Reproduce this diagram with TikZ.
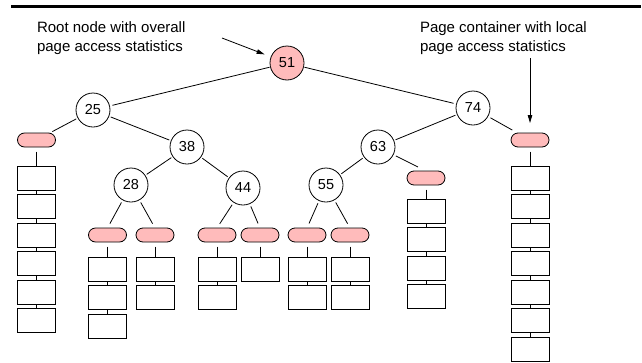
\documentclass[tikz,border=0pt]{standalone}
\usepackage{fontspec}
\setmainfont{Liberation Sans}
\usetikzlibrary{arrows.meta}
\definecolor{pinkfill}{RGB}{255,187,187}
\begin{document}
\begin{tikzpicture}[x=1pt,y=-1pt,
  every node/.style={inner sep=0pt, outer sep=0pt},
  circ/.style={circle, draw, line width=0.8pt, minimum size=34pt, font=\fontsize{14.5}{17}\selectfont},
  rootc/.style={circ, fill=pinkfill},
  bar/.style={rectangle, rounded corners=7pt, draw, line width=0.8pt, fill=pinkfill, minimum width=38pt, minimum height=14pt},
  page/.style={rectangle, draw, line width=0.8pt, minimum width=38pt, minimum height=24pt},
  edge/.style={line width=0.8pt},
  ann/.style={font=\fontsize{15}{19}\selectfont, align=left, anchor=north west},
  pointer/.style={line width=0.8pt, -{Triangle[length=8pt,width=4.5pt]}},
  toprule/.style={line width=3.2pt}]
\useasboundingbox (0,0) rectangle (642,362);

% top rule
\coordinate (ruleL) at (11,6.6);
\coordinate (ruleR) at (641,6.6);
\draw[toprule] (ruleL) -- (ruleR);

% annotations
\node[ann] (txtA) at (37,22) {Root node with overall\\page access statistics};
\node[ann] (txtB) at (420,22) {Page container with local\\page access statistics};

% tree nodes
\node[rootc] (n51) at (287,63) {51};
\node[circ] (n25) at (93,110) {25};
\node[circ] (n74) at (473,108) {74};
\node[circ] (n38) at (187,147) {38};
\node[circ] (n63) at (378,147) {63};
\node[circ] (n28) at (131,185) {28};
\node[circ] (n44) at (243,188) {44};
\node[circ] (n55) at (326,185) {55};

% page containers
\node[bar] (bA) at (36.5,140) {};
\node[bar] (bB) at (530,140) {};
\node[bar] (bC) at (426,178) {};
\node[bar] (bD) at (107.5,235) {};
\node[bar] (bE) at (155,235) {};
\node[bar] (bF) at (217,235) {};
\node[bar] (bG) at (260,235) {};
\node[bar] (bH) at (307,235) {};
\node[bar] (bI) at (350,235) {};

% tree edges
\draw[edge, shorten >=3pt, shorten <=1pt] (n51) -- (n25);
\draw[edge, shorten >=3pt, shorten <=1pt] (n51) -- (n74);
\draw[edge, shorten >=2pt, shorten <=2pt] (n25) -- (n38);
\draw[edge, shorten >=2pt, shorten <=2pt] (n74) -- (n63);
\draw[edge, shorten >=2pt, shorten <=2pt] (n38) -- (n28);
\draw[edge, shorten >=2pt, shorten <=2pt] (n38) -- (n44);
\draw[edge, shorten >=2pt, shorten <=2pt] (n63) -- (n55);
\draw[edge, shorten >=3pt, shorten <=2pt] (n25) -- (bA);
\draw[edge, shorten >=6pt, shorten <=3pt] (n74) -- (bB);
\draw[edge, shorten >=9pt, shorten <=3pt] (n63) -- (bC.north);
\draw[edge, shorten >=5pt, shorten <=3pt] (n28) -- (bD.north);
\draw[edge, shorten >=5pt, shorten <=3pt] (n28) -- (bE.north);
\draw[edge, shorten >=5pt, shorten <=3pt] (n44) -- (bF.north);
\draw[edge, shorten >=5pt, shorten <=3pt] (n44) -- (bG.north);
\draw[edge, shorten >=5pt, shorten <=3pt] (n55) -- (bH.north);
\draw[edge, shorten >=5pt, shorten <=3pt] (n55) -- (bI.north);

% pages
\foreach \c/\x/\t/\n in {A/36.5/166/6, B/530/166/7, C/426/199/4, D/107.5/257/3, E/155/257/2, F/217/257/2, G/260/257/1, H/307/257/2, I/350/257/2} {
  \foreach \k in {1,...,\n} {
    \node[page] (p\c\k) at (\x,{\t+12+(\k-1)*28.5}) {};
  }
  \draw[edge, shorten <=4.5pt] (b\c) -- (p\c1);
  \ifnum\n>1
    \foreach \k in {2,...,\n} {
      \pgfmathtruncatemacro\prevk{\k-1}
      \draw[edge] (p\c\prevk) -- (p\c\k);
    }
  \fi
}

% annotation pointers
\coordinate (annA) at (222,38);
\coordinate (annB) at (530,58);
\draw[pointer, shorten >=7pt] (annA) -- (n51);
\draw[pointer, shorten >=10pt] (annB) -- (bB);
\end{tikzpicture}
\end{document}
